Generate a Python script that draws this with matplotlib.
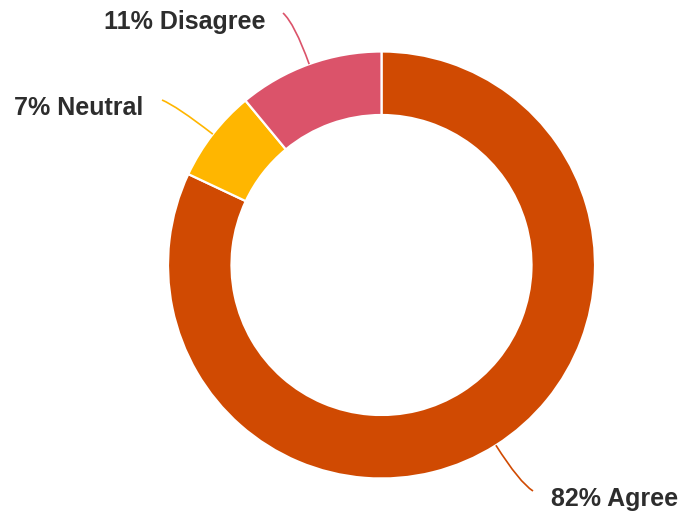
import matplotlib
matplotlib.use("Agg")
import matplotlib.pyplot as plt
from matplotlib.path import Path
from matplotlib.patches import PathPatch
import numpy as np

# Survey response shares
categories = ["Agree", "Neutral", "Disagree"]
shares = [82, 7, 11]
colors = ["#D04A02", "#FFB600", "#DB536A"]
labels = [f"{v}% {c}" for v, c in zip(shares, categories)]

W, H = 681, 516
fig = plt.figure(figsize=(W / 100, H / 100), dpi=100)
ax = fig.add_axes([0, 0, 1, 1])

# Work in pixel units (y measured upward)
cx, cy = 381.5, H - 265
r_out, ring = 213.5, 63.5

wedges, _ = ax.pie(
    shares,
    colors=colors,
    startangle=90,
    counterclock=False,
    radius=r_out,
    center=(cx, cy),
    wedgeprops=dict(width=ring, edgecolor="white", linewidth=1.6),
)
ax.set_xlim(0, W)
ax.set_ylim(0, H)
ax.set_aspect("equal")
ax.axis("off")

# Label placement: (text anchor x, y from top, horizontal alignment, leader end x, y from top)
label_layout = {
    "Agree": (551, 499, "left", 533, 491),
    "Neutral": (143, 108, "right", 162, 100),
    "Disagree": (266, 22, "right", 283, 13),
}

for w, cat, lab, col in zip(wedges, categories, labels, colors):
    mid = (w.theta1 + w.theta2) / 2.0
    ang = np.deg2rad(mid)
    p0 = (cx + r_out * np.cos(ang), cy + r_out * np.sin(ang))
    tx, ty, ha, ex, ey = label_layout[cat]
    p2 = (ex, H - ey)
    # control point continues outward along the radial direction
    d = np.hypot(p2[0] - p0[0], p2[1] - p0[1])
    p1 = (p0[0] + 0.75 * d * np.cos(ang), p0[1] + 0.75 * d * np.sin(ang))
    path = Path([p0, p1, p2], [Path.MOVETO, Path.CURVE3, Path.CURVE3])
    ax.add_patch(PathPatch(path, facecolor="none", edgecolor=col, lw=1.2))
    ax.text(tx, H - ty, lab, ha=ha, va="center", fontsize=18,
            fontweight="bold", color="#2D2D2D", family="Liberation Sans")

fig.savefig("out.png", dpi=100)
